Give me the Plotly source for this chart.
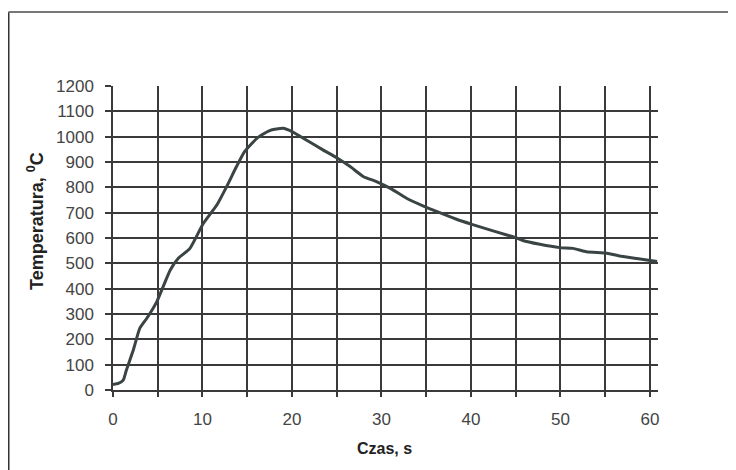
import plotly.graph_objects as go

# Data
czas_s = [0.0, 0.6, 1.15, 1.5, 2.27, 3.0, 3.8, 4.9, 6.4, 7.3, 8.6, 10.1, 11.6, 12.7, 13.8,
          14.7, 16.1, 17.5, 19.0, 20.0, 21.6, 23.5, 25.0, 26.5, 28.0, 29.5, 31.0,
          32.8, 34.7, 36.5, 38.6, 40.1, 42.1, 44.0, 44.9, 45.8, 47.7, 49.9, 51.4,
          52.9, 55.2, 56.6, 58.9, 60.8]
temperatura_c = [22, 26, 39, 79, 158, 244, 284, 349, 474, 520, 559, 658, 730, 803, 882,
                 941, 994, 1024, 1033, 1020, 987, 947, 917, 882, 842, 822, 796,
                 757, 726, 700, 671, 654, 632, 612, 603, 590, 575, 562, 559,
                 546, 540, 529, 517, 507]

x_ticks = list(range(0, 61, 5))
x_ticktext = [str(v) if v % 10 == 0 else "" for v in x_ticks]
y_ticks = list(range(0, 1201, 100))

# page shows the figure offset by the 8px body margin; compensate
OFF = 8
W, H = 736, 470
L, T = 113 - OFF, 86 - OFF
pw, ph = 545, 304
R, B = W - L - pw, H - T - ph

def px_x(px):
    return (px - OFF - L) / pw

def px_y(py):
    return (T + ph - (py - OFF)) / ph

fig = go.Figure()
fig.add_trace(go.Scatter(
    x=czas_s, y=temperatura_c, mode="lines",
    line=dict(color="#3b4444", width=3, shape="spline", smoothing=0.5),
    showlegend=False, hoverinfo="skip"))

grid = "#3a3a3a"
fig.update_layout(
    width=W, height=H,
    margin=dict(l=L, r=R, t=T, b=B, autoexpand=False),
    paper_bgcolor="white", plot_bgcolor="white",
    font=dict(family="Liberation Sans, Arial, sans-serif", color="#333333"),
    xaxis=dict(
        range=[0, 60.9], tickmode="array", tickvals=x_ticks, ticktext=x_ticktext,
        showgrid=True, gridcolor=grid, gridwidth=1.5,
        showline=True, linecolor=grid, linewidth=1.5,
        ticks="outside", ticklen=5, tickcolor=grid, tickwidth=1.5,
        tickfont=dict(size=17, color="#444444"),
        ticklabelstandoff=8, automargin=False,
        zeroline=False,
    ),
    yaxis=dict(
        range=[0, 1200], tickmode="array", tickvals=y_ticks,
        showgrid=True, gridcolor=grid, gridwidth=1.5,
        showline=True, linecolor=grid, linewidth=1.5,
        ticks="outside", ticklen=6, tickcolor=grid, tickwidth=1.5,
        tickfont=dict(size=17, color="#444444"),
        ticklabelstandoff=8, automargin=False,
        zeroline=False,
    ),
    annotations=[
        dict(text="<b>Czas, s</b>", xref="paper", yref="paper",
             x=px_x(384), y=px_y(448), showarrow=False,
             font=dict(size=16, color="#222222"), xanchor="center", yanchor="middle"),
        dict(text="<b>Temperatura, <sup>0</sup>C</b>", xref="paper", yref="paper",
             x=px_x(35), y=px_y(221), showarrow=False, textangle=-90,
             font=dict(size=18, color="#222222"), xanchor="center", yanchor="middle"),
    ],
    shapes=[
        dict(type="line", xref="paper", yref="paper",
             x0=px_x(8.5), x1=px_x(8.5), y0=px_y(12), y1=px_y(480),
             line=dict(color="#333333", width=2)),
        dict(type="line", xref="paper", yref="paper",
             x0=px_x(8.5), x1=px_x(745), y0=px_y(12), y1=px_y(12),
             line=dict(color="#777777", width=2)),
    ],
)

fig.write_html("out.html")
